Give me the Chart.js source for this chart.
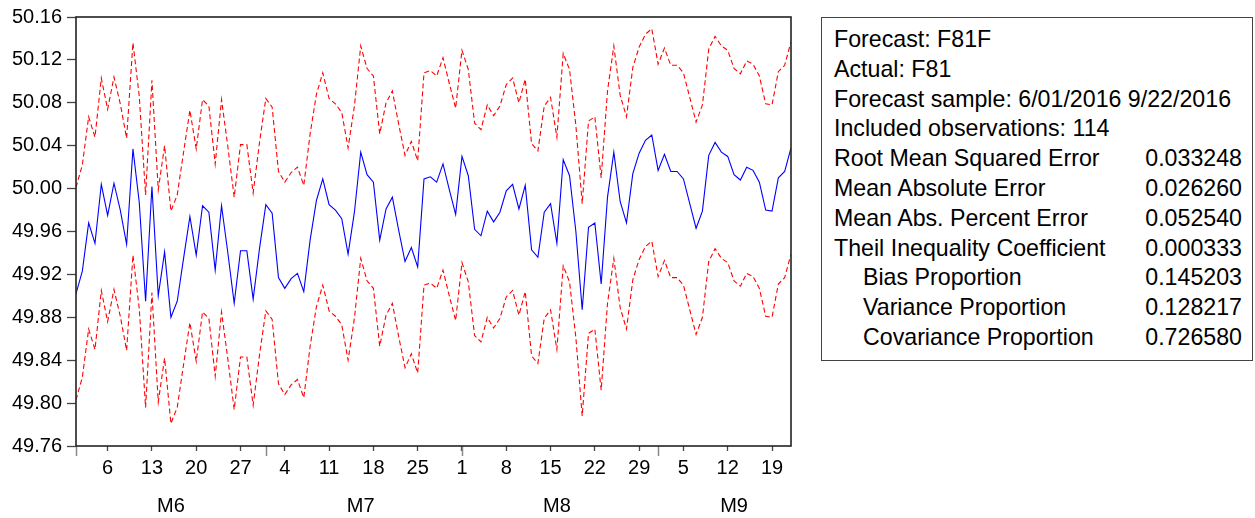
<!DOCTYPE html>
<html>
<head>
<meta charset="utf-8">
<script src="https://cdn.jsdelivr.net/npm/chart.js@4/dist/chart.umd.min.js"></script>
<style>
html,body{margin:0;padding:0;background:#fff;}
#wrap{position:relative;width:1255px;height:518px;overflow:hidden;}
#c{position:absolute;left:0;top:0;}
#stats{position:absolute;left:821px;top:17px;width:432px;box-sizing:border-box;border:1px solid #444;padding:7px 10px 7px 12px;
  font-family:"Liberation Sans",Arial,sans-serif;font-size:23.2px;line-height:29.8px;color:#000;background:#fff;}
.row{display:flex;justify-content:space-between;white-space:nowrap;}
.ind{padding-left:29px;}
</style>
</head>
<body>
<div id="wrap">
<canvas id="c" width="1255" height="518"></canvas>
<div id="stats"></div>
</div>
<script>
// ---- Data (daily observations, 6/01/2016 .. 9/22/2016) ----
const obsStart = '2016-06-01';
const obsCount = 114;

const forecastF81F = [
49.902,49.923,49.968,49.949,50.004,49.975,50.005,49.980,49.948,50.037,
49.987,49.895,50.002,49.900,49.941,49.880,49.895,49.935,49.974,49.938,
49.984,49.978,49.924,49.984,49.940,49.893,49.942,49.942,49.897,49.944,
49.985,49.977,49.917,49.907,49.916,49.921,49.904,49.952,49.989,50.009,
49.985,49.980,49.972,49.939,49.978,50.034,50.013,50.006,49.952,49.981,
49.992,49.961,49.932,49.945,49.927,50.009,50.011,50.006,50.023,49.999,
49.976,50.030,50.012,49.962,49.956,49.979,49.969,49.978,49.998,50.004,
49.981,50.003,49.943,49.936,49.978,49.986,49.949,50.027,50.012,49.960,
49.887,49.964,49.968,49.911,49.992,50.034,49.988,49.968,50.014,50.033,
50.045,50.050,50.017,50.032,50.016,50.016,50.009,49.986,49.963,49.979,
50.031,50.043,50.034,50.030,50.013,50.008,50.020,50.017,50.006,49.980,
49.979,50.010,50.016,50.038];

const upperBand = [
50.001,50.022,50.067,50.048,50.103,50.074,50.104,50.079,50.047,50.136,
50.086,49.994,50.101,49.999,50.040,49.979,49.994,50.034,50.073,50.037,
50.083,50.077,50.023,50.083,50.039,49.992,50.041,50.041,49.996,50.043,
50.084,50.076,50.016,50.006,50.015,50.020,50.003,50.051,50.088,50.108,
50.084,50.079,50.071,50.038,50.077,50.133,50.112,50.105,50.051,50.080,
50.091,50.060,50.031,50.044,50.026,50.108,50.110,50.105,50.122,50.098,
50.075,50.129,50.111,50.061,50.055,50.078,50.068,50.077,50.097,50.103,
50.080,50.102,50.042,50.035,50.077,50.085,50.048,50.126,50.111,50.059,
49.986,50.063,50.067,50.010,50.091,50.133,50.087,50.067,50.113,50.132,
50.144,50.149,50.116,50.131,50.115,50.115,50.108,50.085,50.062,50.078,
50.130,50.142,50.133,50.129,50.112,50.107,50.119,50.116,50.105,50.079,
50.078,50.109,50.115,50.137];

const lowerBand = [
49.803,49.824,49.869,49.850,49.905,49.876,49.906,49.881,49.849,49.938,
49.888,49.796,49.903,49.801,49.842,49.781,49.796,49.836,49.875,49.839,
49.885,49.879,49.825,49.885,49.841,49.794,49.843,49.843,49.798,49.845,
49.886,49.878,49.818,49.808,49.817,49.822,49.805,49.853,49.890,49.910,
49.886,49.881,49.873,49.840,49.879,49.935,49.914,49.907,49.853,49.882,
49.893,49.862,49.833,49.846,49.828,49.910,49.912,49.907,49.924,49.900,
49.877,49.931,49.913,49.863,49.857,49.880,49.870,49.879,49.899,49.905,
49.882,49.904,49.844,49.837,49.879,49.887,49.850,49.928,49.913,49.861,
49.788,49.865,49.869,49.812,49.893,49.935,49.889,49.869,49.915,49.934,
49.946,49.951,49.918,49.933,49.917,49.917,49.910,49.887,49.864,49.880,
49.932,49.944,49.935,49.931,49.914,49.909,49.921,49.918,49.907,49.881,
49.880,49.911,49.917,49.939];

const yTickValues = [49.76,49.80,49.84,49.88,49.92,49.96,50.00,50.04,50.08,50.12,50.16];
const xTickIndex  = [5,12,19,26,33,40,47,54,61,68,75,82,89,96,103,110];
const xTickLabels = ['6','13','20','27','4','11','18','25','1','8','15','22','29','5','12','19'];
const monthStartIndex = [0,30,61,92];
const monthLabels = ['M6','M7','M8','M9'];

const statLabels = ['Forecast: F81F','Actual: F81','Forecast sample: 6/01/2016 9/22/2016','Included observations: 114',
  'Root Mean Squared Error','Mean Absolute Error','Mean Abs. Percent Error','Theil Inequality Coefficient',
  'Bias Proportion','Variance Proportion','Covariance Proportion'];
const statValues = ['','','','','0.033248','0.026260','0.052540','0.000333','0.145203','0.128217','0.726580'];
const statIndented = [false,false,false,false,false,false,false,false,true,true,true];

// ---- Stats box ----
const box = document.getElementById('stats');
statLabels.forEach((l,i)=>{
  const r = document.createElement('div'); r.className='row';
  const a = document.createElement('span'); a.textContent = l; if(statIndented[i]) a.className='ind';
  const b = document.createElement('span'); b.textContent = statValues[i];
  r.appendChild(a); r.appendChild(b); box.appendChild(r);
});

// ---- Chart ----
const monthLabelPos = [15,45,76,104]; // layout positions of the month captions
const xTicks = [];
xTickIndex.forEach((v,i)=>xTicks.push({value:v,kind:'day',text:xTickLabels[i]}));
monthLabels.forEach((m,i)=>xTicks.push({value:monthLabelPos[i],kind:'month',text:['',m]}));
monthStartIndex.forEach(v=>{ if(!xTickIndex.includes(v)) xTicks.push({value:v,kind:'bound',text:''}); });
xTicks.sort((a,b)=>a.value-b.value);

const pts = arr => arr.map((v,i)=>({x:i,y:v}));

const framePlugin = {
  id:'frame',
  afterDraw(chart){
    const {ctx, chartArea:a, scales:{x}} = chart;
    ctx.save();
    ctx.strokeStyle='#8a8a8a'; ctx.lineWidth=1.5;
    monthStartIndex.forEach(v=>{
      const px = Math.round(x.getPixelForValue(v))+0.5;
      ctx.beginPath(); ctx.moveTo(px,a.bottom); ctx.lineTo(px,a.bottom+10); ctx.stroke();
    });
    ctx.strokeStyle='#222'; ctx.lineWidth=1.6;
    ctx.strokeRect(a.left, a.top, a.right-a.left, a.bottom-a.top);
    ctx.restore();
  }
};

Chart.defaults.font.family = '"Liberation Sans", Arial, sans-serif';
Chart.defaults.font.size = 20;
Chart.defaults.color = '#000';

new Chart(document.getElementById('c'), {
  type:'line',
  data:{
    datasets:[
      {data:pts(upperBand), borderColor:'#ff0000', borderWidth:1.1, borderDash:[5,3], pointRadius:0, tension:0, fill:false},
      {data:pts(lowerBand), borderColor:'#ff0000', borderWidth:1.1, borderDash:[5,3], pointRadius:0, tension:0, fill:false},
      {data:pts(forecastF81F), borderColor:'#0000ff', borderWidth:1.1, pointRadius:0, tension:0, fill:false}
    ]
  },
  options:{
    responsive:false, animation:false, devicePixelRatio:1,
    layout:{padding:{top:17, right:464, left:0, bottom:0}},
    plugins:{legend:{display:false}, tooltip:{enabled:false}},
    scales:{
      x:{
        type:'linear', min:0, max:obsCount-1, bounds:'data',
        border:{display:false},
        grid:{drawOnChartArea:false, tickLength:5, tickWidth:1.3,
              tickColor:c=> (c.tick && c.tick.kind==='day') ? '#444' : 'rgba(0,0,0,0)'},
        ticks:{autoSkip:false, maxRotation:0, minRotation:0, padding:-2,
               font:{size:20, lineHeight:1.93},
               callback:(v,i,t)=> t[i].text},
        afterBuildTicks:s=>{ s.ticks = xTicks.map(t=>({value:t.value,kind:t.kind,text:t.text})); },
        afterFit:s=>{ s.height = 72; }
      },
      y:{
        type:'linear', min:49.76, max:50.16,
        border:{display:false},
        grid:{drawOnChartArea:false, tickLength:9, tickWidth:1.3, tickColor:'#444'},
        ticks:{padding:5, font:{size:20}, callback:v=>Number(v).toFixed(2)},
        afterBuildTicks:s=>{ s.ticks = yTickValues.map(v=>({value:v})); },
        afterFit:s=>{ s.width = 76; }
      }
    }
  },
  plugins:[framePlugin]
});
</script>
</body>
</html>
